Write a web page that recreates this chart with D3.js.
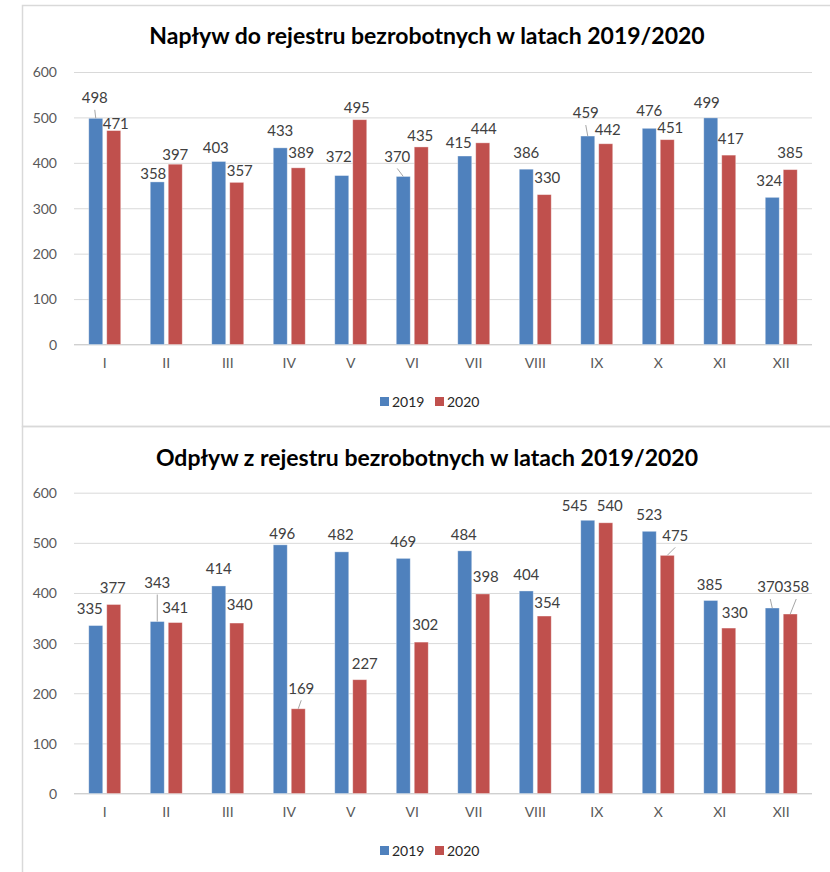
<!DOCTYPE html>
<html>
<head>
<meta charset="utf-8">
<script src="https://cdn.jsdelivr.net/npm/d3@7"></script>
<style>
  html, body { margin: 0; padding: 0; background: #ffffff; }
  svg { display: block; }
</style>
</head>
<body>
<svg id="chart" width="830" height="872"></svg>
<script>
// ---------- DATA ----------
const months = ["I", "II", "III", "IV", "V", "VI", "VII", "VIII", "IX", "X", "XI", "XII"];
const seriesNames = ["2019", "2020"];
const tickValues = [0, 100, 200, 300, 400, 500, 600];

const inflowTitle = "Napływ do rejestru bezrobotnych w latach 2019/2020";
const inflow2019 = [498, 358, 403, 433, 372, 370, 415, 386, 459, 476, 499, 324];
const inflow2020 = [471, 397, 357, 389, 495, 435, 444, 330, 442, 451, 417, 385];

const outflowTitle = "Odpływ z rejestru bezrobotnych w latach 2019/2020";
const outflow2019 = [335, 343, 414, 496, 482, 469, 484, 404, 545, 523, 385, 370];
const outflow2020 = [377, 341, 340, 169, 227, 302, 398, 354, 540, 475, 330, 358];

// ---------- LABEL LAYOUT (manual nudges of data labels, dx/dy of label centre from bar top-centre) ----------
const inflowNudge2019 = [[-1,-20.5],[-4,-8],[-3,-14],[0,-17],[-3,-19],[-6,-20],[-6,-13.5],[0,-16.5],[-2,-23],[0,-18],[-4,-15],[-3,-17]];
const inflowNudge2020 = [[2,-7],[0,-10],[3,-12],[3,-15],[-3,-12],[-1,-11],[1,-14],[3,-17],[2,-14],[3,-12],[2,-17],[0,-17]];
const inflowLeader2019 = [1,0,0,0,0,1,0,0,1,0,0,0];
const inflowLeader2020 = [0,0,0,0,0,0,0,0,0,0,0,0];

const outflowNudge2019 = [[-6,-17],[0,-39],[0,-17],[2,-11],[-1,-17],[0,-16.5],[-1,-16],[0,-16],[-13,-15],[0,-17],[-1,-16],[-2,-21]];
const outflowNudge2020 = [[-1,-16.5],[0,-15],[3,-18],[3,-20.5],[5,-16.5],[4,-17],[3,-17],[3,-13],[4,-17],[8,-20],[6,-15],[6,-27]];
const outflowLeader2019 = [0,1,0,0,0,0,0,0,0,0,0,1];
const outflowLeader2020 = [0,0,0,1,0,0,0,0,0,1,0,1];

// ---------- STYLE ----------
const colors = { "2019": "#4F81BD", "2020": "#C0504D" };
const FONT = "Lato, 'Liberation Sans', Arial, sans-serif";

const svg = d3.select("#chart");

// frames
svg.append("rect").attr("x", 22.5).attr("y", 5.5).attr("width", 830).attr("height", 421)
  .attr("fill", "none").attr("stroke", "#d9d9d9").attr("stroke-width", 1.5);
svg.append("rect").attr("x", 22.5).attr("y", 426.5).attr("width", 830).attr("height", 470)
  .attr("fill", "none").attr("stroke", "#d9d9d9").attr("stroke-width", 1.5);

function drawChart(cfg) {
  const g = svg.append("g");
  const left = 74, right = 812;

  const x0 = d3.scaleBand().domain(months).range([left, right])
    .paddingInner(0.48).paddingOuter(0.24);
  const x1 = d3.scaleBand().domain(seriesNames).range([0, x0.bandwidth()]).paddingInner(0.222);
  const y = d3.scaleLinear().domain([0, 600]).range([cfg.y0, cfg.y600]);

  // title
  g.append("text")
    .attr("x", 427).attr("y", cfg.titleY)
    .attr("text-anchor", "middle")
    .attr("font-family", FONT).attr("font-weight", "bold")
    .attr("font-size", 23).attr("fill", "#000000")
    .text(cfg.title);

  // y axis with gridlines
  const yAxis = d3.axisLeft(y).tickValues(tickValues).tickSize(-(right - left)).tickPadding(17)
    .tickFormat(d3.format("d"));
  const ya = g.append("g").attr("transform", `translate(${left},0)`).call(yAxis);
  ya.select(".domain").remove();
  ya.selectAll(".tick line").attr("stroke", "#d9d9d9").attr("stroke-width", 1);
  ya.selectAll(".tick text").attr("font-family", FONT).attr("font-size", 14)
    .attr("fill", "#595959").attr("dy", "0.35em");

  // x axis
  const xAxis = d3.axisBottom(x0).tickSize(0).tickPadding(14);
  const xa = g.append("g").attr("transform", `translate(0,${cfg.y0})`).call(xAxis);
  xa.select(".domain").attr("stroke", "#d0d0d0").attr("stroke-width", 1.2)
    .attr("d", `M${left},0H${right}`);
  xa.selectAll(".tick text").attr("font-family", FONT).attr("font-size", 14).attr("fill", "#595959");

  const series = seriesNames.map((name, si) => ({
    name, values: cfg.values[si], nudges: cfg.nudges[si], leaders: cfg.leaders[si]
  }));

  // bars
  series.forEach(s => {
    g.append("g").selectAll("rect").data(s.values).join("rect")
      .attr("x", (d, i) => x0(months[i]) + x1(s.name))
      .attr("y", d => y(d))
      .attr("width", x1.bandwidth())
      .attr("height", d => y(0) - y(d))
      .attr("fill", colors[s.name])
      .attr("stroke", "rgba(255,255,255,0.45)").attr("stroke-width", 0.8);
  });

  // leader lines + labels
  series.forEach(s => {
    const cx = i => x0(months[i]) + x1(s.name) + x1.bandwidth() / 2;
    const lg = g.append("g");
    s.values.forEach((d, i) => {
      const lx = cx(i) + s.nudges[i][0];
      const ly = y(d) + s.nudges[i][1];
      if (s.leaders[i]) {
        lg.append("line")
          .attr("x1", lx).attr("y1", ly + 12)
          .attr("x2", cx(i)).attr("y2", y(d))
          .attr("stroke", "#a6a6a6").attr("stroke-width", 1);
      }
      lg.append("text")
        .attr("x", lx).attr("y", ly + 5.4)
        .attr("text-anchor", "middle")
        .attr("font-family", FONT).attr("font-size", 15).attr("fill", "#404040")
        .text(d);
    });
  });

  // legend
  const lgd = g.append("g");
  const items = [{ name: "2019", x: 380 }, { name: "2020", x: 435 }];
  items.forEach(it => {
    lgd.append("rect").attr("x", it.x).attr("y", cfg.legendY - 4.5)
      .attr("width", 9).attr("height", 9).attr("fill", colors[it.name]);
    lgd.append("text").attr("x", it.x + 12).attr("y", cfg.legendY + 5)
      .attr("font-family", FONT).attr("font-size", 14).attr("fill", "#262626")
      .text(it.name);
  });
}

drawChart({
  title: inflowTitle, titleY: 44,
  y0: 344.5, y600: 72,
  values: [inflow2019, inflow2020],
  nudges: [inflowNudge2019, inflowNudge2020],
  leaders: [inflowLeader2019, inflowLeader2020],
  legendY: 401.5
});

drawChart({
  title: outflowTitle, titleY: 466,
  y0: 793.5, y600: 492.7,
  values: [outflow2019, outflow2020],
  nudges: [outflowNudge2019, outflowNudge2020],
  leaders: [outflowLeader2019, outflowLeader2020],
  legendY: 850.5
});
</script>
</body>
</html>
